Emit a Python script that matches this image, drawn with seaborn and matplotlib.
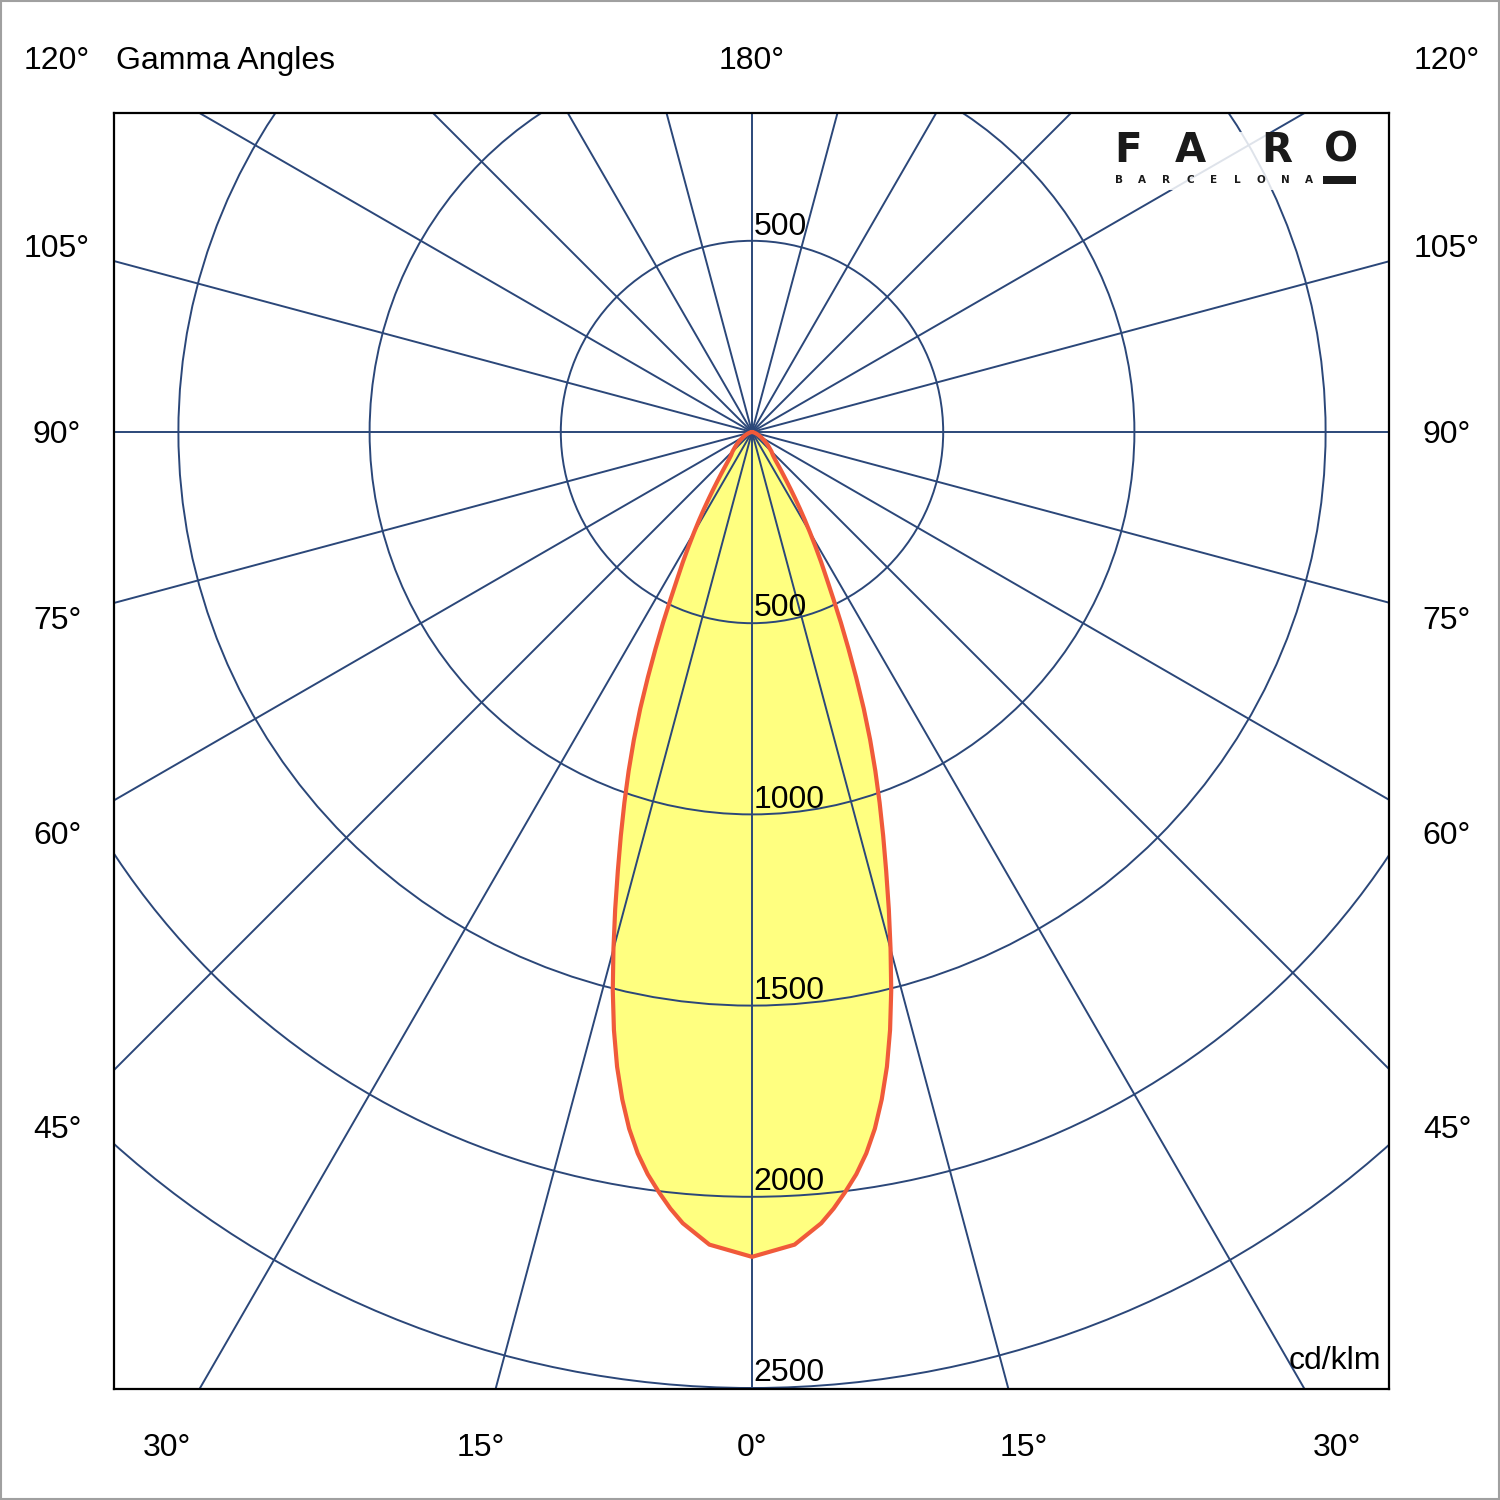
import numpy as np
import pandas as pd
import matplotlib
matplotlib.use("Agg")
import matplotlib.pyplot as plt
from matplotlib import patches
import seaborn as sns

# photometric data (symmetric beam), gamma angle in degrees -> cd/klm
gamma_deg = [0, 3, 5, 6, 7, 8, 9, 10, 11, 12, 13, 14, 15, 16, 17, 18, 19, 20,
             21, 22, 23, 24, 25, 26, 27, 28, 29, 30, 31, 32, 33, 34, 35, 36,
             37, 38, 39, 40, 42, 45, 50, 55, 60, 65, 70, 75, 80, 85, 90]
intensity = [2157, 2128, 2077, 2042, 2002, 1960, 1910, 1850, 1778, 1697, 1605,
             1505, 1400, 1298, 1200, 1110, 1025, 943, 862, 780, 697, 620, 550,
             485, 430, 385, 342, 303, 268, 236, 207, 182, 160, 142, 127, 114,
             103, 94, 82, 72, 55, 40, 28, 18, 11, 6, 3, 1, 0]

ring_values = [500, 1000, 1500, 2000, 2500]
spoke_angles = list(range(0, 180, 15))
side_labels = [45, 60, 75, 90, 105, 120]
bottom_labels = [0, 15, 30]
logo_word = ["F", "A", "R", "O"]
logo_sub = list("BARCELONA")

GRID = "#2B4779"
FILL = "#FFFF80"
EDGE = "#F05A3A"

# pixel layout of the reference: centre of the diagram and px per cd/klm
CX, CY = 752, 432
S = 191.2 / 500
DROP = 3 / S  # small downward nudge for centred labels


def px(x, y):
    return (x - CX) / S, (CY - y) / S


sns.set_style("white")
plt.rcParams["font.family"] = ["Liberation Sans", "DejaVu Sans"]
plt.rcParams["text.color"] = "black"

fig = plt.figure(figsize=(15, 15), dpi=100)
ax = fig.add_axes([114 / 1500, 111 / 1500, 1275 / 1500, 1276 / 1500])
x0, _ = px(114, 0)
x1, _ = px(1389, 0)
_, ytop = px(0, 113)
_, ybot = px(0, 1389)
ax.set_xlim(x0, x1)
ax.set_ylim(ybot, ytop)
ax.set_xticks([])
ax.set_yticks([])
for sp in ax.spines.values():
    sp.set_color("black")
    sp.set_linewidth(1.6)

# curve: mirror right half onto the left
th = np.deg2rad(np.array(gamma_deg, dtype=float))
r = np.array(intensity, dtype=float)
th_all = np.concatenate([-th[::-1], th[1:]])
r_all = np.concatenate([r[::-1], r[1:]])
curve = pd.DataFrame({"x": r_all * np.sin(th_all), "y": -r_all * np.cos(th_all)})

ax.fill(curve["x"], curve["y"], color=FILL, zorder=1, lw=0)

# grid rings and spokes
for rv in ring_values:
    ax.add_patch(patches.Circle((0, 0), rv, fill=False, edgecolor=GRID, lw=1.4, zorder=2))
L = 5000
for a in spoke_angles:
    t = np.deg2rad(a)
    ax.plot([-L * np.sin(t), L * np.sin(t)], [L * np.cos(t), -L * np.cos(t)],
            color=GRID, lw=1.4, zorder=2)

sns.lineplot(data=curve, x="x", y="y", sort=False, estimator=None, color=EDGE,
             lw=3.0, ax=ax, zorder=4)
ax.set_xlabel("")
ax.set_ylabel("")

# ring value labels on the vertical axis
fs = 23
ax.text(4, ring_values[0] + 16, str(ring_values[0]), fontsize=fs, ha="left",
        va="baseline", zorder=5)
for rv in ring_values:
    ax.text(4, -rv + 18, str(rv), fontsize=fs, ha="left", va="baseline", zorder=5)

# gamma angle labels outside the frame
side_x = (CX - 57) / S
bottom_y = -(1445 - CY) / S
top_y = (CY - 58) / S
for a in side_labels:
    y = -side_x / np.tan(np.deg2rad(a)) if a != 90 else 0.0
    y = min(y, top_y)
    for sx in (-side_x, side_x):
        ax.text(sx, y - DROP, f"{a}°", fontsize=fs, ha="center", va="center", clip_on=False)
for a in bottom_labels:
    d = abs(bottom_y) * np.tan(np.deg2rad(a))
    xs = [0.0] if a == 0 else [-d, d]
    for x in xs:
        ax.text(x, bottom_y - DROP, f"{a}°", fontsize=fs, ha="center", va="center", clip_on=False)
ax.text(0, top_y - DROP, "180°", fontsize=fs, ha="center", va="center", clip_on=False)
gx, _ = px(116, 0)
ax.text(gx, top_y - DROP, "Gamma Angles", fontsize=fs, ha="left", va="center", clip_on=False)
ux, uy = px(1381, 1358)
ax.text(ux, uy - DROP, "cd/klm", fontsize=fs, ha="right", va="center", zorder=5)

# logo
lx0, ly0 = px(1108, 190)
lx1, ly1 = px(1362, 132)
ax.add_patch(patches.Rectangle((lx0, ly0), lx1 - lx0, ly1 - ly0, facecolor="white",
                               edgecolor="none", alpha=0.85, zorder=3))
for ch, cxp in zip(logo_word, [1128, 1190, 1277, 1341]):
    tx, ty = px(cxp, 151)
    ax.text(tx, ty, ch, fontsize=29, fontweight="bold", family="DejaVu Sans",
            color="#1a1a1a", ha="center", va="center", zorder=5)
for i, ch in enumerate(logo_sub):
    tx, ty = px(1118.5 + 23.8 * i, 180)
    ax.text(tx, ty, ch, fontsize=7.5, fontweight="bold", family="DejaVu Sans",
            color="#1a1a1a", ha="center", va="center", zorder=5)
bx0, by0 = px(1323, 184)
bx1, by1 = px(1356, 176)
ax.add_patch(patches.Rectangle((bx0, by0), bx1 - bx0, by1 - by0, facecolor="#1a1a1a",
                               edgecolor="none", zorder=5))

fig.patches.append(patches.Rectangle((0.0005, 0.0005), 0.999, 0.999, transform=fig.transFigure,
                                     fill=False, edgecolor="#A0A0A0", lw=1.5))

fig.savefig("out.png", dpi=100)
